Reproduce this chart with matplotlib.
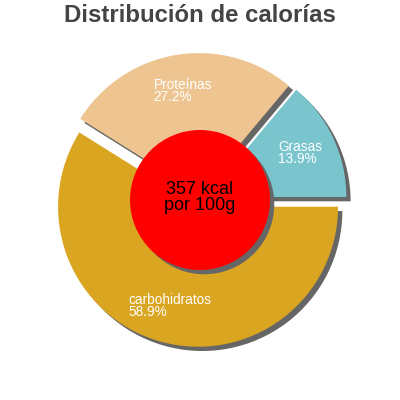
import numpy as np
import matplotlib
matplotlib.use("Agg")
import matplotlib.pyplot as plt
from matplotlib import patches as mpatches

labels = ["Grasas", "Proteínas", "carbohidratos"]
shares = [13.9, 27.2, 58.9]
colors = ["#7AC5CD", "#EEC591", "#DAA520"]
center_text = "357 kcal\npor 100g"
title = "Distribución de calorías"

plt.rcParams["font.family"] = ["Liberation Sans", "DejaVu Sans"]

fig = plt.figure(figsize=(4, 4), dpi=100)
ax = fig.add_axes([0, 0, 1, 1])
lim = 200 / 140

wedges, _ = ax.pie(shares, colors=colors, startangle=0, counterclock=True,
                   radius=1.0, explode=[0.05] * 3, center=(0, 0), frame=True)
ax.set_xlim(-lim, lim); ax.set_ylim(-lim, lim)
ax.set_aspect("equal"); ax.axis("off")
for w in wedges:
    w.set_zorder(2)
    ax.add_patch(mpatches.Shadow(w, 0.022, -0.022, facecolor="#666666",
                                 edgecolor="none", alpha=1, zorder=1))

# centre disc with its shadow
disc = mpatches.Circle((0, 0), 0.5, facecolor="#FF0000", edgecolor="none", zorder=4)
ax.add_patch(mpatches.Shadow(disc, 0.022, -0.022, facecolor="#666666",
                             edgecolor="none", alpha=1, zorder=3))
ax.add_patch(disc)
ax.text(0, 0.02, center_text, ha="center", va="center", fontsize=13,
        color="black", zorder=5, linespacing=0.92)

# slice labels, placed along each slice's mid angle
start = 0.0
for lab, val, w in zip(labels, shares, wedges):
    mid = np.deg2rad(start + val * 3.6 / 2)
    cx, cy = w.center
    r = 0.74
    ax.text(cx + r * np.cos(mid), cy + r * np.sin(mid), f"{lab}\n{val:.1f}%",
            ha="center", va="center", multialignment="left", fontsize=9.8,
            color="white", zorder=5, linespacing=0.85)
    start += val * 3.6

fig.text(0.5, 1 - 16 / 400, title, ha="center", va="center", fontsize=17.3,
         fontweight="bold", color="#444444")

fig.savefig("out.png", dpi=100)
